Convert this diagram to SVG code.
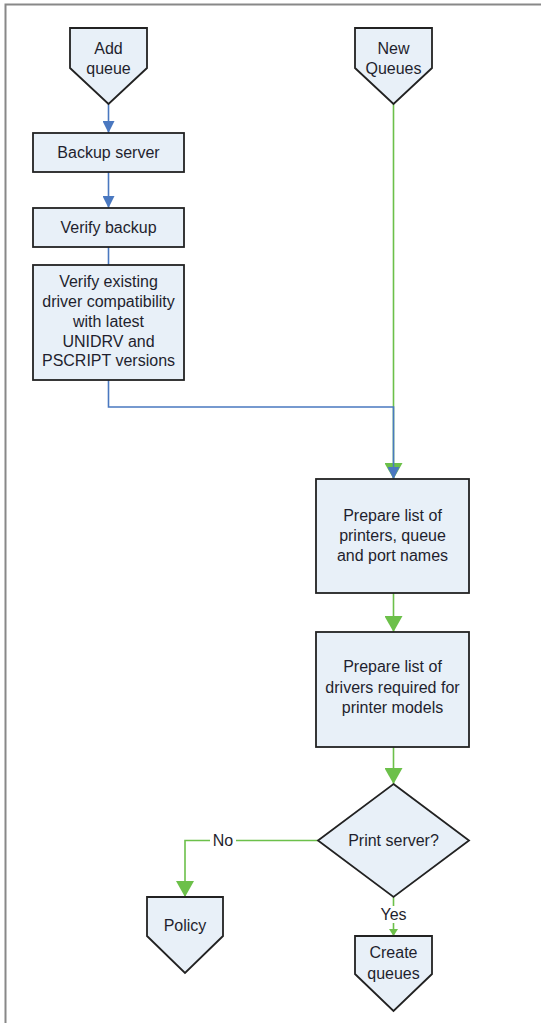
<svg xmlns="http://www.w3.org/2000/svg" width="541" height="1023" viewBox="0 0 541 1023">
<defs>
<style>
.n{fill:#e8f0f8;stroke:#222;stroke-width:1.8}
.t{font-family:"Liberation Sans",Arial,sans-serif;font-size:16px;fill:#1f1f2e;text-anchor:middle}
.b{fill:none;stroke:#4a78c0;stroke-width:1.6}
.g{fill:none;stroke:#6cc04a;stroke-width:1.6}
.lb{fill:#fff}
</style>
<marker id="ab" markerUnits="userSpaceOnUse" markerWidth="12" markerHeight="12" refX="12" refY="6" orient="auto"><path d="M0,0 L12,6 L0,12 Z" fill="#4a78c0"/></marker>
<marker id="ag" markerUnits="userSpaceOnUse" markerWidth="16" markerHeight="18" refX="16" refY="9" orient="auto"><path d="M0,0 L16,9 L0,18 Z" fill="#6cc04a"/></marker>
<marker id="ags" markerUnits="userSpaceOnUse" markerWidth="7" markerHeight="9" refX="7" refY="4.5" orient="auto"><path d="M0,0 L7,4.5 L0,9 Z" fill="#6cc04a"/></marker>
</defs>
<rect x="0" y="0" width="541" height="1023" fill="#fff"/>
<path d="M5.5,1023 V4.5 H541" fill="none" stroke="#888" stroke-width="2"/>

<g id="connectors">
<path class="b" d="M108.5,104 V133" marker-end="url(#ab)"/>
<path class="b" d="M108.5,172 V208" marker-end="url(#ab)"/>
<path class="b" d="M108.5,247 V265"/>
<path class="g" d="M393.5,104 V479" marker-end="url(#ag)"/>
<path class="b" d="M108.5,380 V407 H393.5 V479" marker-end="url(#ab)"/>
<path class="g" d="M393.5,593 V632" marker-end="url(#ag)"/>
<path class="g" d="M393.5,747 V784" marker-end="url(#ag)"/>
<path class="g" d="M318,840.5 H185 V897" marker-end="url(#ag)"/>
<path class="g" d="M393.5,897 V936" marker-end="url(#ags)"/>
<rect class="lb" x="210" y="832" width="26" height="17"/>
<text class="t" x="223" y="846">No</text>
<rect class="lb" x="378" y="906" width="31" height="17"/>
<text class="t" x="393.5" y="920">Yes</text>
</g>

<g id="add-queue">
<path class="n" d="M70,28 H147 V68 L108.5,104 L70,68 Z"/>
<text class="t" x="108.5" y="54">Add</text>
<text class="t" x="108.5" y="74">queue</text>
</g>
<g id="new-queues">
<path class="n" d="M355,28 H432 V68 L393.5,104 L355,68 Z"/>
<text class="t" x="393.5" y="54">New</text>
<text class="t" x="393.5" y="74">Queues</text>
</g>
<g id="backup-server">
<rect class="n" x="33" y="133" width="151" height="39"/>
<text class="t" x="108.5" y="158">Backup server</text>
</g>
<g id="verify-backup">
<rect class="n" x="33" y="208" width="151" height="39"/>
<text class="t" x="108.5" y="233">Verify backup</text>
</g>
<g id="verify-driver">
<rect class="n" x="33" y="265" width="151" height="115"/>
<text class="t" x="108.5" y="287">Verify existing</text>
<text class="t" x="108.5" y="307">driver compatibility</text>
<text class="t" x="108.5" y="327">with latest</text>
<text class="t" x="108.5" y="347">UNIDRV and</text>
<text class="t" x="108.5" y="366">PSCRIPT versions</text>
</g>
<g id="prepare-printers">
<rect class="n" x="316" y="479" width="153" height="114"/>
<text class="t" x="392.5" y="521">Prepare list of</text>
<text class="t" x="392.5" y="541">printers, queue</text>
<text class="t" x="392.5" y="561">and port names</text>
</g>
<g id="prepare-drivers">
<rect class="n" x="316" y="632" width="153" height="115"/>
<text class="t" x="392.5" y="672">Prepare list of</text>
<text class="t" x="392.5" y="693">drivers required for</text>
<text class="t" x="392.5" y="713">printer models</text>
</g>
<g id="print-server">
<path class="n" d="M393.5,784 L469,840.5 L393.5,897 L318,840.5 Z"/>
<text class="t" x="393.5" y="846">Print server?</text>
</g>
<g id="policy">
<path class="n" d="M147,897 H223 V936 L185,973 L147,936 Z"/>
<text class="t" x="185" y="931">Policy</text>
</g>
<g id="create-queues">
<path class="n" d="M355,936 H432 V974 L393.5,1011 L355,974 Z"/>
<text class="t" x="393.5" y="958">Create</text>
<text class="t" x="393.5" y="979">queues</text>
</g>
</svg>
